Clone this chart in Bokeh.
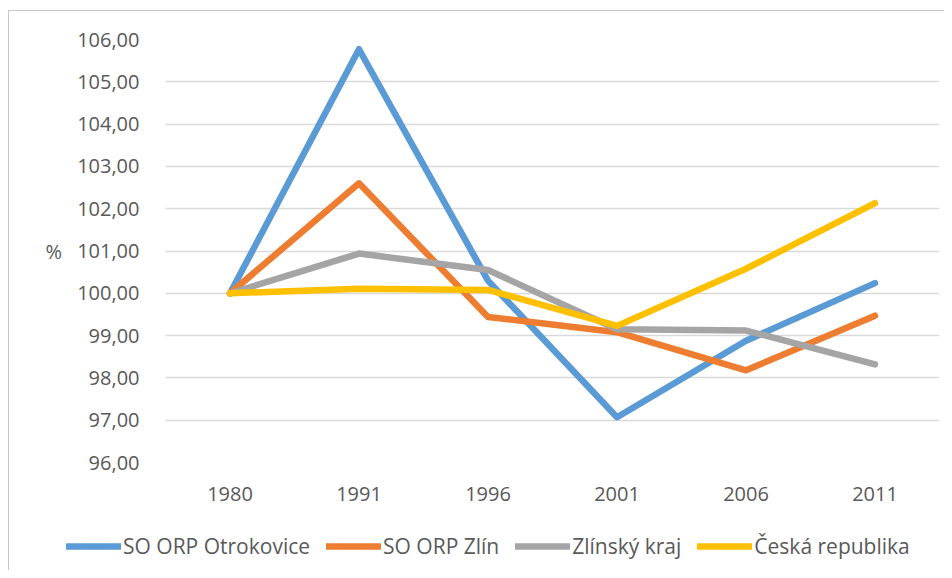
from bokeh.plotting import figure
from bokeh.models import Legend, LegendItem, FixedTicker, CustomJSTickFormatter
from bokeh.embed import file_html
from bokeh.resources import INLINE

years = ["1980", "1991", "1996", "2001", "2006", "2011"]
otrokovice = [100.00, 105.77, 100.30, 97.07, 98.88, 100.24]
zlin = [100.00, 102.60, 99.44, 99.08, 98.18, 99.47]
zlinsky_kraj = [100.00, 100.94, 100.55, 99.15, 99.12, 98.32]
ceska_republika = [100.00, 100.11, 100.08, 99.23, 100.58, 102.13]
y_ticks = [96, 97, 98, 99, 100, 101, 102, 103, 104, 105, 106]

series = [
    ("SO ORP Otrokovice", otrokovice, "#5B9BD5"),
    ("SO ORP Zlín", zlin, "#ED7D31"),
    ("Zlínský kraj", zlinsky_kraj, "#A5A5A5"),
    ("Česká republika", ceska_republika, "#FFC000"),
]

FONT = "Open Sans"
TXT = "#595959"
BORDER = "1.5px solid #c8c8c8"

p = figure(x_range=years, y_range=(96, 106), width=936, height=500,
           output_backend="svg", toolbar_location=None,
           min_border_left=156, min_border_top=28, min_border_right=6,
           min_border_bottom=49)
p.styles = {"margin-left": "8px", "margin-top": "10px",
            "border-left": BORDER, "border-top": BORDER}
p.outline_line_color = None
p.background_fill_color = "white"

p.xgrid.grid_line_color = None
p.ygrid.grid_line_color = "#d9d9d9"
p.ygrid.grid_line_width = 1.5

p.yaxis.ticker = FixedTicker(ticks=y_ticks)
p.yaxis.formatter = CustomJSTickFormatter(code="return tick.toFixed(2).replace('.', ',');")
for ax in (p.xaxis[0], p.yaxis[0]):
    ax.axis_line_color = None
    ax.major_tick_line_color = None
    ax.minor_tick_line_color = None
    ax.major_label_text_font = FONT
    ax.major_label_text_font_size = "20px"
    ax.major_label_text_color = TXT
p.yaxis.major_label_standoff = 20
p.xaxis.major_label_standoff = 18

p.yaxis.axis_label = "%"
p.yaxis.axis_label_orientation = "horizontal"
p.yaxis.axis_label_text_font = FONT
p.yaxis.axis_label_text_font_size = "20px"
p.yaxis.axis_label_text_font_style = "normal"
p.yaxis.axis_label_text_color = TXT
p.yaxis.axis_label_standoff = 12

for name, vals, color in series:
    p.line(years, vals, line_color=color, line_width=6.5,
           line_join="round", line_cap="round")

# legend-only strip below the chart (its lines lie outside its y range)
pl = figure(x_range=years, y_range=(0, 1), width=936, height=60,
            output_backend="svg", toolbar_location=None,
            x_axis_location=None, y_axis_location=None,
            min_border_left=0, min_border_right=0, min_border_top=0, min_border_bottom=0)
pl.styles = {"margin-left": "8px", "border-left": BORDER}
pl.outline_line_color = None
pl.grid.visible = False
items = []
for name, vals, color in series:
    r = pl.line(years, vals, line_color=color, line_width=6.5,
                line_join="round", line_cap="round")
    items.append(LegendItem(label=name, renderers=[r]))

legend = Legend(items=items, orientation="horizontal", location=(57, 10),
                label_text_font=FONT, label_text_font_size="21px",
                label_text_color=TXT, glyph_width=55, glyph_height=20,
                label_standoff=2, spacing=16, border_line_color=None,
                background_fill_alpha=0, padding=4, margin=0)
pl.add_layout(legend, "center")

open("out.html", "w").write(file_html([p, pl], INLINE))
